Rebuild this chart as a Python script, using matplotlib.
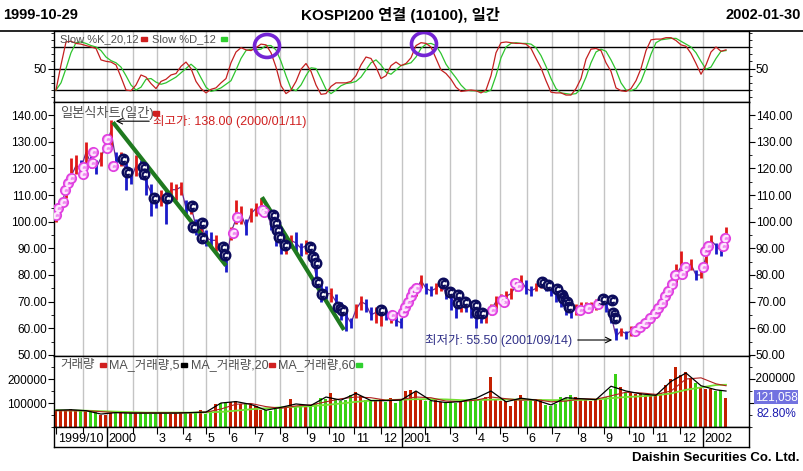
import numpy as np
import matplotlib
matplotlib.use('Agg')
import matplotlib.pyplot as plt
import matplotlib.transforms as mtrans
from matplotlib.patches import Ellipse, Rectangle
from matplotlib.lines import Line2D
from matplotlib.ticker import FixedLocator, MultipleLocator, FuncFormatter

plt.rcParams['font.family'] = ['Liberation Sans', 'Noto Sans CJK KR']

W, H = 804, 471

# ---- data (one sample ~ 4 trading days, 1999-10-29 .. 2002-01-30) ----
close = [102, 106, 112, 117, 121, 120, 126, 122, 120, 124,
         129, 134, 123, 124, 119, 116, 121, 119, 115, 111,
         107, 109, 108, 112, 112, 113, 105, 106, 98, 99,
         94, 93, 93, 90, 84, 96, 101, 103, 98, 103,
         105, 105, 104, 99, 95, 91, 91, 93, 92, 90,
         91, 88, 80, 74, 73, 73, 70, 67, 65, 62,
         67, 70, 69, 65, 66, 66, 65, 65, 63, 62,
         68, 72, 74, 78, 75, 74, 75, 77, 73, 71,
         70, 70, 69, 68, 65, 64, 65, 67, 70, 71,
         72, 73, 76, 78, 75, 74, 75, 77, 76, 75,
         73, 71, 69, 67, 67, 67, 68, 68, 69, 70,
         69, 65, 57, 59, 58, 59, 59, 61, 62, 64,
         67, 70, 72, 76, 80, 83, 83, 84, 80, 80,
         87, 93, 91, 89, 94]
high = [104, 108, 114, 124, 125, 123, 130, 126, 123, 126,
        132, 138, 126, 126, 122, 120, 125, 123, 117, 114,
        110, 112, 112, 115, 114, 115, 108, 107, 101, 101,
        97, 96, 95, 92, 87, 98, 108, 106, 101, 105,
        107, 109, 106, 103, 98, 93, 94, 95, 96, 92,
        93, 91, 84, 77, 76, 75, 73, 70, 68, 64,
        69, 72, 71, 68, 68, 68, 67, 66, 66, 64,
        70, 74, 77, 80, 77, 76, 77, 78, 75, 73,
        72, 71, 71, 70, 67, 66, 66, 69, 72, 73,
        74, 75, 78, 80, 78, 76, 77, 79, 78, 77,
        75, 73, 71, 69, 69, 70, 70, 70, 71, 71,
        70, 67, 60, 60, 59, 61, 61, 62, 64, 66,
        68, 71, 74, 77, 84, 89, 85, 86, 82, 82,
        89, 95, 92, 91, 98]
low = [100, 104, 109, 114, 118, 117, 122, 120, 118, 121,
       126, 128, 120, 121, 112, 114, 117, 116, 110, 102,
       105, 106, 99, 109, 108, 110, 103, 103, 95, 94,
       91, 90, 89, 86, 81, 93, 99, 99, 95, 100,
       102, 103, 102, 97, 91, 88, 88, 90, 89, 87,
       88, 85, 76, 70, 71, 70, 67, 63, 59, 60,
       64, 67, 66, 63, 62, 61, 63, 62, 61, 60,
       65, 69, 72, 75, 73, 72, 73, 74, 71, 67,
       64, 66, 66, 64, 60, 62, 62, 65, 67, 69,
       70, 71, 74, 76, 73, 72, 74, 75, 74, 72,
       70, 68, 65, 64, 65, 66, 66, 66, 67, 68,
       66, 62, 55.5, 57, 56, 57, 58, 59, 60, 62,
       64, 67, 70, 73, 77, 80, 80, 82, 78, 79,
       83, 90, 88, 87, 91]

stoch_k = [20, 55, 87, 88, 85, 84, 82, 80, 78, 62,
           60, 59, 55, 38, 20, 19, 27, 41, 38, 29,
           22, 32, 35, 41, 43, 53, 59, 50, 32, 22,
           16, 21, 23, 30, 36, 58, 73, 79, 76, 75,
           79, 84, 83, 72, 52, 26, 15, 20, 32, 49,
           57, 46, 27, 14, 15, 25, 30, 30, 30, 32,
           40, 55, 66, 64, 52, 36, 40, 54, 59, 54,
           57, 65, 82, 86, 85, 80, 64, 48, 43, 35,
           24, 18, 19, 20, 19, 16, 20, 40, 72, 86,
           87, 86, 85, 85, 84, 78, 64, 51, 33, 17,
           16, 16, 13, 13, 22, 36, 63, 77, 78, 75,
           58, 46, 23, 19, 18, 22, 33, 50, 75, 90,
           91, 91, 93, 93, 89, 83, 81, 71, 57, 42,
           55, 73, 80, 74, 76]
stoch_d = [20, 30, 50, 72, 86, 87, 85, 82, 80, 75,
           66, 61, 58, 52, 40, 27, 20, 24, 35, 36,
           31, 28, 30, 34, 38, 44, 50, 56, 50, 37,
           24, 18, 20, 23, 28, 33, 48, 64, 75, 77,
           76, 77, 82, 82, 76, 60, 40, 22, 19, 27,
           40, 51, 50, 36, 21, 15, 20, 26, 29, 30,
           32, 38, 48, 58, 62, 55, 45, 42, 48, 54,
           56, 58, 66, 78, 84, 85, 82, 71, 56, 46,
           37, 27, 20, 19, 19, 18, 17, 20, 40, 65,
           80, 85, 86, 85, 85, 84, 79, 68, 53, 36,
           22, 16, 15, 14, 15, 22, 38, 58, 73, 77,
           74, 62, 48, 30, 20, 19, 22, 32, 50, 70,
           86, 90, 91, 92, 92, 88, 84, 80, 72, 60,
           49, 52, 64, 74, 75]

# volume in thousands
volume = [70, 72, 68, 74, 70, 72, 66, 68, 64, 52,
          50, 60, 62, 58, 60, 57, 62, 60, 58, 56,
          60, 58, 62, 56, 58, 62, 60, 58, 64, 72,
          55, 68, 95, 102, 98, 104, 110, 96, 100, 92,
          88, 72, 70, 68, 74, 84, 88, 118, 86, 92,
          88, 90, 94, 122, 118, 140, 115, 110, 112, 135,
          145, 128, 112, 110, 108, 118, 104, 120, 100, 112,
          150, 155, 148, 112, 110, 108, 112, 104, 100, 104,
          102, 106, 108, 118, 122, 115, 125, 208, 118, 110,
          108, 86, 112, 135, 110, 112, 110, 115, 92, 88,
          95, 126, 120, 135, 125, 118, 112, 110, 115, 112,
          125, 158, 220, 165, 145, 140, 138, 142, 132, 130,
          135, 140, 175, 200, 250, 215, 230, 205, 185, 165,
          160, 158, 150, 155, 121]
ma_idx = list(range(0, 133, 3)) + [134]
ma5 = [70, 72, 68, 54, 60, 58, 58, 58, 58, 60, 62, 100, 106, 94, 70, 82,
       96, 90, 125, 112, 140, 110, 110, 112, 150, 110, 102, 106, 120, 150,
       105, 120, 112, 92, 122, 118, 114, 170, 150, 138, 132, 190, 225, 172,
       155, 150]
ma20 = [68, 68, 68, 64, 60, 59, 59, 59, 59, 60, 62, 75, 95, 98, 85, 78,
        88, 92, 105, 118, 125, 122, 112, 115, 125, 122, 108, 106, 112, 125,
        118, 112, 114, 105, 108, 118, 116, 130, 145, 142, 136, 150, 200, 205,
        180, 172]
ma60 = [70, 69, 68, 66, 64, 62, 60, 60, 60, 60, 61, 63, 68, 74, 78, 82,
        84, 87, 92, 98, 105, 110, 112, 114, 116, 116, 115, 112, 112, 114,
        115, 114, 113, 112, 112, 113, 115, 120, 125, 128, 132, 140, 155, 165,
        175, 176]

pink_x = [0.0, 0.4, 1.4, 1.8, 2.4, 3.0, 5.4, 5.4, 7.2, 7.4, 10.2, 10.2, 11.4,
          35.4, 36.2, 41.2, 41.6, 67.2, 69.4, 69.8, 70.4, 71.0, 71.4, 72.0,
          87.2, 89.2, 89.6, 91.8, 92.4, 104.8, 106.4, 108.4, 115.8, 116.8,
          117.8, 118.8, 119.8, 120.4, 121.2, 121.8, 122.4, 123.2, 123.8, 125.2,
          125.8, 129.4, 129.8, 130.4, 133.4, 133.8]
pink_y = [102.4, 105, 107.5, 112, 114.5, 116.3, 118, 120.5, 122, 126, 127.5,
          131, 121, 95.7, 101.7, 104.3, 103.5, 65, 66, 68, 70, 72, 74, 75, 67,
          70.5, 70, 77, 76, 67, 67.5, 69, 59, 60.5, 62, 64, 65.7, 67.5, 69.5,
          72, 74, 76.5, 80, 80.5, 83, 83, 89, 91, 91, 94]
navy_x = [13.4, 14.2, 17.4, 17.6, 19.6, 22.2, 27.2, 27.4, 29.2, 29.2, 33.4,
          33.8, 43.4, 43.8, 44.2, 44.6, 45.8, 50.8, 51.4, 52.0, 52.2, 53.2,
          56.4, 57.2, 65.0, 77.4, 78.8, 80.4, 80.4, 81.8, 83.8, 84.2, 85.2,
          97.2, 98.4, 100.2, 101.2, 101.4, 102.2, 102.6, 109.4, 111.2, 111.4,
          111.8]
navy_y = [123.7, 118.5, 120.6, 118, 109, 109, 106, 98, 99.5, 94, 90.5, 87.5,
          102.4, 99.4, 96.8, 94.2, 91.2, 90.5, 86.7, 84.4, 77.4, 73, 68, 67,
          67, 77, 73.6, 72.5, 69.5, 70, 68.7, 65.7, 65.7, 77.4, 76.2, 74.7,
          72.5, 71.3, 70, 68, 71, 70.6, 65.7, 64]

trend1_x, trend1_y = [11.4, 34.0], [137.3, 83.5]
trend2_x, trend2_y = [41.2, 57.6], [109.2, 59.4]

month_pos = [0, 5.4, 10.2, 15.4, 20.2, 25.4, 30, 34.6, 39.8, 44.8, 50.2,
             54.6, 59.6, 65, 69.2, 73.8, 78.8, 84, 88.8, 94.2, 99.2, 104.4,
             109.6, 114.6, 119.4, 124.8, 129.4]
month_labels = ['1999/10', '', '2000', '', '3', '4', '5', '6', '7', '8', '9',
                '10', '11', '12', '2001', '', '3', '4', '5', '6', '7', '8', '9',
                '10', '11', '12', '2002']
year_pos = [10.2, 69.2, 129.4]

xs = np.arange(len(close))
XLIM = (-0.4, 138.6)
GRID = '#c4c4c4'

fig = plt.figure(figsize=(W / 100, H / 100), dpi=100)


def box(top, bottom, left=54, right=749):
    return [left / W, 1 - bottom / H, (right - left) / W, (bottom - top) / H]


def fpt(x, y):
    return x / W, 1 - y / H


ax_s = fig.add_axes(box(31, 102))
ax_p = fig.add_axes(box(102, 356))
ax_v = fig.add_axes(box(356, 427))
ax_d = fig.add_axes(box(427, 447))

for ax in (ax_s, ax_p, ax_v, ax_d):
    ax.set_xlim(*XLIM)
    for sp in ax.spines.values():
        sp.set_linewidth(1.0)
for ax in (ax_s, ax_p, ax_v):
    for m in month_pos[1:]:
        ax.axvline(m, color=GRID, lw=1, zorder=0)
    ax.set_xticks([])
    ax.tick_params(axis='y', which='both', direction='out', left=True,
                   right=True, labelleft=True, labelright=True, labelsize=8.5,
                   pad=1)
    ax.tick_params(axis='y', which='major', length=4)
    ax.tick_params(axis='y', which='minor', length=2.5)

# ---- stochastic ----
ax_s.plot(xs, stoch_k, color='#c42020', lw=0.9, zorder=3)
ax_s.plot(xs, stoch_d, color='#2ec42e', lw=0.9, zorder=2)
for lv in (20, 50, 80):
    ax_s.axhline(lv, color='black', lw=1, zorder=1)
ax_s.set_ylim(3.3, 102.3)
ax_s.yaxis.set_major_locator(FixedLocator([50]))
ax_s.yaxis.set_minor_locator(MultipleLocator(10))
for cx, cy in ((42.2, 81.4), (73.6, 84.2)):
    ax_s.add_patch(Ellipse((cx, cy), 5.0, 32, fill=False, ec='#7424d4',
                           lw=2.6, zorder=5))

# ---- price ----
cols = ['#e01818' if i == 0 or close[i] >= close[i - 1] else '#1a1ac8'
        for i in range(len(close))]
ax_p.plot(xs, close, color='#6a2a90', lw=0.9, zorder=2)
ax_p.vlines(xs, low, high, colors=cols, lw=2.0, zorder=3)
ax_p.plot(trend1_x, trend1_y, color='#1f7a1f', lw=3, zorder=4,
          solid_capstyle='butt')
ax_p.plot(trend2_x, trend2_y, color='#1f7a1f', lw=3, zorder=4,
          solid_capstyle='butt')
ax_p.plot(pink_x, pink_y, 'o', ms=6.8, mfc='#f08cf0', mec='#e040e0', mew=1.2,
          zorder=5)
ax_p.plot(pink_x, pink_y, marker='$c$', ls='none', ms=4.2, color='#fde6fd',
          zorder=6)
ax_p.plot(navy_x, navy_y, 'o', ms=6.8, mfc='white', mec='#0c0c5c', mew=1.8,
          zorder=5)
ax_p.plot(navy_x, navy_y, marker='$c$', ls='none', ms=4.2, color='#0c0c5c',
          zorder=6)
ax_p.set_ylim(49.6, 144.9)
ax_p.yaxis.set_major_locator(MultipleLocator(10))
ax_p.yaxis.set_minor_locator(MultipleLocator(5))
ax_p.yaxis.set_major_formatter(FuncFormatter(lambda v, p: f'{v:.2f}'))

ax_p.annotate('', xy=(11.4, 137.7), xytext=(19.2, 137.7),
              arrowprops=dict(arrowstyle='->', color='black', lw=0.8))
ax_p.text(19.4, 137.7, '최고가: 138.00 (2000/01/11)', color='#d02020',
          fontsize=9, va='center', ha='left', zorder=7)
ax_p.annotate('', xy=(111.8, 55.6), xytext=(103.8, 55.6),
              arrowprops=dict(arrowstyle='->', color='black', lw=0.8))
ax_p.text(103.2, 55.6, '최저가: 55.50 (2001/09/14)', color='#303088',
          fontsize=9, va='center', ha='right', zorder=7)

# ---- volume ----
vcols = ['#c42000' if c == '#e01818' else '#3ad014' for c in cols]
ax_v.bar(xs, np.array(volume) * 1000, width=0.6, color=vcols, zorder=2)
ax_v.plot(ma_idx, np.array(ma60) * 1000, color='#74e030', lw=1.3, zorder=3)
ax_v.plot(ma_idx, np.array(ma20) * 1000, color='#b02020', lw=0.8, zorder=4)
ax_v.plot(ma_idx, np.array(ma5) * 1000, color='black', lw=0.9, zorder=5)
ax_v.set_ylim(0, 296000)
ax_v.yaxis.set_major_locator(FixedLocator([100000, 200000]))
ax_v.yaxis.set_minor_locator(MultipleLocator(50000))
ax_v.yaxis.set_major_formatter(FuncFormatter(lambda v, p: f'{int(v)}'))
ax_v.tick_params(axis='y', labelright=False)
vtr = mtrans.blended_transform_factory(ax_v.transAxes, ax_v.transData)
ax_v.text(1.0, 200000, '  200000', transform=vtr, fontsize=8.5, ha='left',
          va='center')

# ---- date row ----
ax_d.set_ylim(0, 1)
ax_d.set_yticks([])
ax_d.set_xticks(month_pos)
ax_d.tick_params(axis='x', which='major', direction='in', top=True,
                 bottom=False, labelbottom=False, length=5)
for yp in year_pos:
    ax_d.axvline(yp, color='black', lw=1)
for pos, lab in zip(month_pos, month_labels):
    if lab:
        ax_d.text(pos + 0.35, 0.42, lab, fontsize=9, ha='left', va='center')

# ---- legends / header / footer ----
grey = '#505050'
fig.text(*fpt(60, 39), 'Slow %K_20,12', fontsize=8, color=grey, va='center')
fig.text(*fpt(152, 39), 'Slow %D_12', fontsize=8, color=grey, va='center')
fig.text(*fpt(60, 113), '일본식차트(일간)', fontsize=9.5, color=grey,
         va='center')
fig.text(*fpt(60, 365), '거래량', fontsize=9, color=grey, va='center')
fig.text(*fpt(109, 365), 'MA_거래량,5', fontsize=9, color=grey, va='center')
fig.text(*fpt(191, 365), 'MA_거래량,20', fontsize=9, color=grey, va='center')
fig.text(*fpt(278, 365), 'MA_거래량,60', fontsize=9, color=grey, va='center')
for cx, cy, cc in ((141, 39, '#d02020'), (221, 39, '#30d030'),
                   (153, 113, '#d02020'), (100, 365, '#d02020'),
                   (181, 365, 'black'), (269, 365, '#d02020'),
                   (356, 365, '#30d030')):
    fig.add_artist(Rectangle(fpt(cx, cy + 2), 6 / W, 4 / H,
                             transform=fig.transFigure, color=cc, zorder=8))

head = ['Liberation Sans Narrow', 'Liberation Sans', 'Noto Sans CJK KR']
fig.text(*fpt(3, 15), '1999-10-29', fontsize=10.5, fontweight='bold',
         family=head, va='center', ha='left')
fig.text(*fpt(400, 15), 'KOSPI200 연결 (10100), 일간', fontsize=11,
         fontweight='bold', family=head, va='center', ha='center')
fig.text(*fpt(801, 15), '2002-01-30', fontsize=10.5, fontweight='bold',
         family=head, va='center', ha='right')
fig.add_artist(Line2D([0, 1], [1 - 31 / H] * 2, color='black', lw=1.2,
                      transform=fig.transFigure))

fig.text(*fpt(776, 397), '121,058', fontsize=8.5, color='white', va='center',
         ha='center', bbox=dict(boxstyle='square,pad=0.08', fc='#7272e0',
                                ec='none'))
fig.text(*fpt(776, 414), '82.80%', fontsize=8.5, color='#1a1ab0', va='center',
         ha='center')
fig.text(*fpt(800, 458), 'Daishin Securities Co. Ltd.', fontsize=9.5,
         fontweight='bold', va='center', ha='right')

fig.savefig('out.png', dpi=100)
